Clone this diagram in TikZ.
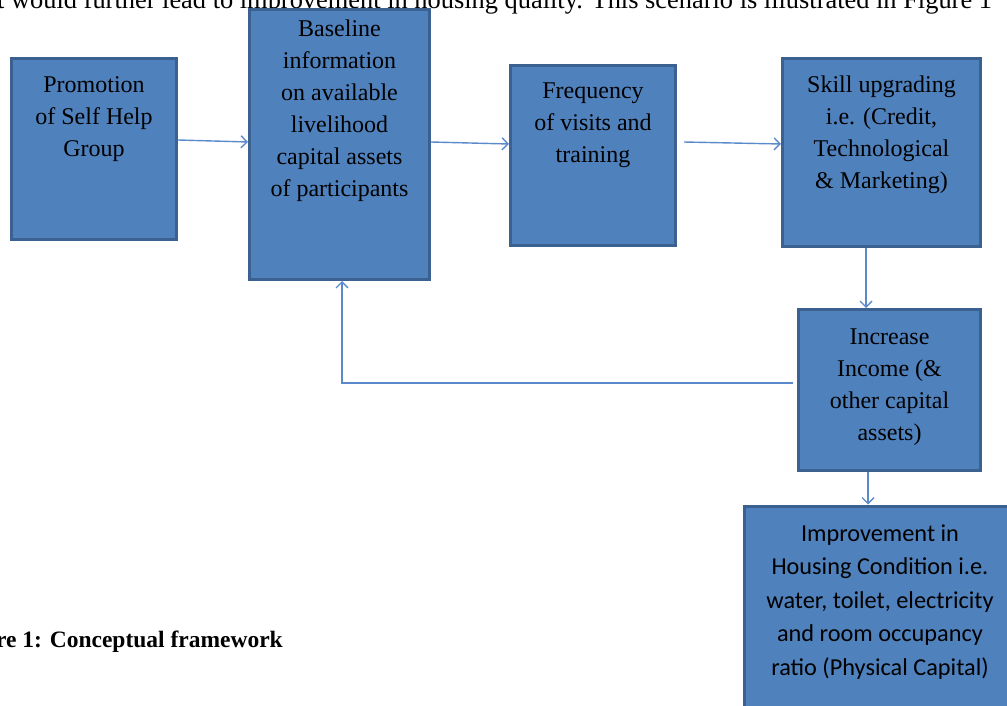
\documentclass[tikz,border=0pt]{standalone}
\usepackage{fontspec}
\setmainfont{Liberation Serif}
\newfontfamily\carl{Carlito}
\usetikzlibrary{arrows.meta}
\definecolor{boxfill}{HTML}{4F81BD}
\definecolor{boxline}{HTML}{3B6190}
\definecolor{arrowc}{HTML}{5A8ACB}
\begin{document}
\begin{tikzpicture}[x=1pt,y=-1pt,
  box/.style={draw=boxline, line width=3pt, fill=boxfill, inner sep=0pt},
  txt/.style={anchor=north, align=center, inner sep=0pt, font=\fontsize{24}{32}\selectfont},
  ctxt/.style={anchor=north, align=center, inner sep=0pt, font=\carl\fontsize{24.3}{33.5}\selectfont},
  conn/.style={draw=arrowc, line width=1.4pt, -{Straight Barb[length=6pt,width=12pt,line width=1.4pt]}}]
\useasboundingbox (0,0) rectangle (1007,706);
\clip (0,0) rectangle (1007,706);
% surrounding text
\node[anchor=base west, inner sep=0pt, font=\fontsize{26.4}{30}\selectfont] (toptext) at (-3,9) {t would further lead to improvement in housing quality. This scenario is illustrated in Figure 1};
\node[anchor=base east, inner sep=0pt, font=\bfseries\fontsize{23.5}{28}\selectfont] (caption) at (283,647) {re 1: Conceptual framework};
% boxes
\node[box, minimum width=165pt, minimum height=181pt] (A) at (94,149) {};
\node[box, minimum width=180pt, minimum height=270pt] (B) at (339.5,144.5) {};
\node[box, minimum width=165pt, minimum height=180pt] (C) at (593,155.5) {};
\node[box, minimum width=198pt, minimum height=188pt] (D) at (881.5,152.5) {};
\node[box, minimum width=182pt, minimum height=161pt] (E) at (889.5,390) {};
\node[box, minimum width=271pt, minimum height=230pt] (F) at (880,621) {};
% texts
\node[txt] (At) at ([yshift=-19pt]A.north) {Promotion\\of Self Help\\Group};
\node[txt] (Bt) at ([yshift=-12pt]B.north) {Baseline\\information\\on available\\livelihood\\capital assets\\of participants};
\node[txt] (Ct) at ([yshift=-19pt]C.north) {Frequency\\of visits and\\training};
\node[txt] (Dt) at ([yshift=-19pt]D.north) {Skill upgrading\\i.e. (Credit,\\Technological\\\& Marketing)};
\node[txt] (Et) at ([yshift=-21pt]E.north) {Increase\\Income (\&\\other capital\\assets)};
\node[ctxt] (Ft) at ([yshift=-20pt]F.north) {Improvement in\\Housing Condition i.e.\\water, toilet, electricity\\and room occupancy\\ratio (Physical Capital)};
% connector end points
\coordinate (cd) at (684,142);
\coordinate (eb) at (793,383);
% connectors
\draw[conn] (A.east |- 0,140) -- (B.west |- 0,142);
\draw[conn] (B.east |- 0,142) -- (C.west |- 0,144);
\draw[conn] (cd) -- (D.west |- 0,144);
\draw[conn] (D.south -| 866,0) -- (E.north -| 866,0);
\draw[conn] (eb) -| (B.south -| 342,0);
\draw[conn] (E.south -| 868,0) -- (F.north -| 868,0);
\end{tikzpicture}
\end{document}
